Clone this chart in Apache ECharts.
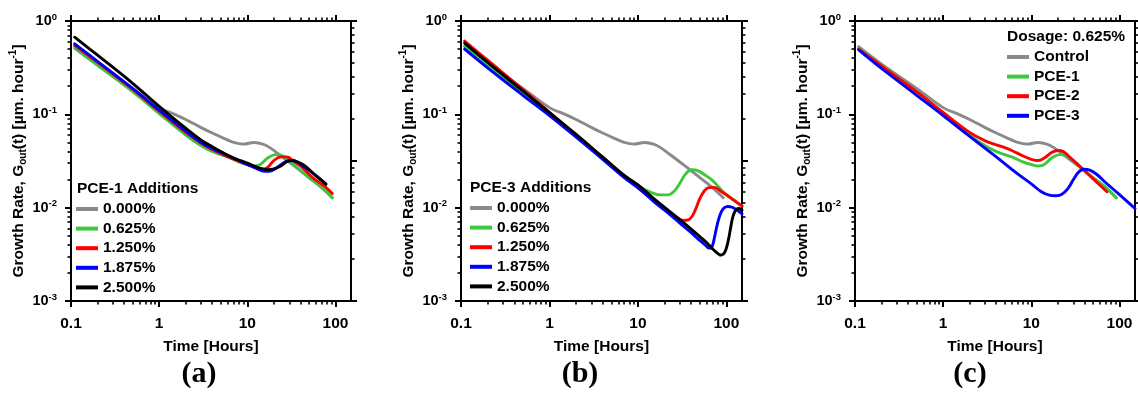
<!DOCTYPE html>
<html><head><meta charset="utf-8">
<script src="https://cdn.jsdelivr.net/npm/echarts@6/dist/echarts.min.js"></script>
<style>html,body{margin:0;padding:0;background:#fff}#c{width:1138px;height:394px}</style>
</head><body><div id="c"></div><script>
// ---------- data (time in hours, growth rate) ----------
const ctrlT = [0.11,0.2,0.5,1,1.5,2,3,4,5.5,7,9,12,15,18,24,34,50,70,92];
const ctrlG = [0.53,0.345,0.19,0.118,0.1,0.088,0.072,0.063,0.055,0.05,0.048,0.05,0.048,0.044,0.036,0.028,0.021,0.0163,0.0128];

// panel (a) PCE-1 additions
const a625T  = [0.11,0.2,0.5,1,2,3,4,5,6,8,10,12,14,17,21,25,30,40,50,70,92];
const a625G  = [0.51,0.335,0.175,0.102,0.06,0.046,0.04,0.037,0.035,0.031,0.029,0.028,0.029,0.034,0.037,0.036,0.032,0.025,0.021,0.0165,0.0128];
const a1250T = [0.11,0.2,0.5,1,2,3,4,5,7,10,13,15,17,20,24,28,33,40,55,75,92];
const a1250G = [0.55,0.36,0.185,0.108,0.064,0.049,0.042,0.038,0.033,0.029,0.027,0.026,0.027,0.032,0.035,0.035,0.032,0.028,0.021,0.017,0.0142];
const a1875T = [0.11,0.2,0.5,1,2,3,4,5,7,10,13,16,19,23,27,31,36,45,60,78];
const a1875G = [0.57,0.37,0.19,0.111,0.066,0.05,0.043,0.039,0.034,0.029,0.026,0.0245,0.025,0.028,0.031,0.032,0.031,0.027,0.022,0.0178];
const a2500T = [0.11,0.2,0.5,1,2,3,4,5,7,10,13,17,20,24,28,32,37,45,60,78];
const a2500G = [0.67,0.43,0.215,0.122,0.071,0.053,0.045,0.04,0.034,0.03,0.027,0.0255,0.026,0.028,0.031,0.032,0.031,0.028,0.022,0.018];

// panel (b) PCE-3 additions
const b625T  = [0.11,0.2,0.5,1,2,4,7,10,14,18,22,26,30,35,41,48,58,70,96,150];
const b625G  = [0.54,0.34,0.17,0.1,0.058,0.034,0.022,0.0172,0.0146,0.0137,0.0137,0.0152,0.0185,0.0233,0.0255,0.0248,0.0222,0.0195,0.0142,0.0104];
const b1250T = [0.11,0.2,0.5,1,2,4,7,10,15,20,25,29,33,37,41,45,50,56,63,72,90,115,150];
const b1250G = [0.61,0.38,0.185,0.105,0.06,0.0345,0.0215,0.0168,0.0122,0.0097,0.0083,0.0076,0.0073,0.0074,0.0081,0.0097,0.0125,0.015,0.0164,0.0165,0.0146,0.0125,0.0104];
const b1875T = [0.11,0.2,0.5,1,2,4,7,10,15,20,30,40,48,54,59,63,67,70,73,77,82,88,95,104,116,130,150];
const b1875G = [0.5,0.315,0.16,0.097,0.057,0.033,0.021,0.0163,0.0117,0.0094,0.0068,0.0054,0.0046,0.0042,0.0039,0.0037,0.0037,0.0040,0.0047,0.006,0.0076,0.0091,0.01,0.0103,0.0101,0.0095,0.0086];
const b2500T = [0.11,0.2,0.5,1,2,4,7,10,15,20,30,40,50,60,68,75,81,87,93,98,103,108,113,118,124,131,139,150];
const b2500G = [0.58,0.36,0.178,0.104,0.061,0.0348,0.0222,0.0175,0.0126,0.0101,0.0074,0.0059,0.0049,0.0042,0.0037,0.0034,0.0032,0.0031,0.0032,0.0035,0.0041,0.0051,0.0065,0.0079,0.009,0.0097,0.0098,0.0094];

// panel (c) dosage 0.625 %
const cPce1T = a625T, cPce1G = a625G;
const cPce2T = [0.11,0.2,0.5,1,2,3,4,5,6,8,10,12,14,17,20,23,27,35,50,72];
const cPce2G = [0.5,0.33,0.175,0.105,0.064,0.052,0.047,0.044,0.041,0.036,0.033,0.032,0.034,0.039,0.041,0.04,0.035,0.028,0.0205,0.0148];
const cPce3T = [0.11,0.2,0.5,1,2,4,7,10,13,16,19,22,26,30,35,40,46,55,70,100,150];
const cPce3G = [0.49,0.31,0.16,0.097,0.058,0.035,0.023,0.018,0.0148,0.0136,0.0134,0.0138,0.016,0.02,0.0245,0.0258,0.0252,0.0228,0.0185,0.0138,0.0098];

const addNames = ['0.000%','0.625%','1.250%','1.875%','2.500%'];
const dosNames = ['Control','PCE-1','PCE-2','PCE-3'];
const xTickLabels = [0.1,1,10,100];
const yTickLabels = [0.001,0.01,0.1,1];

// ---------- styling ----------
const FONT = '"Liberation Sans", Arial, sans-serif';
const FS = 15.5;
const C = {gray:'#8a8a8a', green:'#3cc83c', red:'#ff0000', blue:'#0000ff', black:'#000000'};
const X_MIN = 0.1, X_MAX = 150;
function minors(decs){const o=[];decs.forEach(d=>{for(let m=2;m<=9;m++)o.push(+(m*d).toPrecision(3));});return o;}
const xMinor = minors([0.1,1,10]);
const yMinor = minors([0.001,0.01,0.1]);
const rMajor = [0.01,0.1,1];
const rMinor = minors([0.01,0.1]);

const grids = [
  {left:71, top:21, width:280, height:280},
  {left:461, top:21, width:281, height:280},
  {left:855, top:21, width:280, height:280}
];

function fmtX(v){const e=Math.round(Math.log10(v));return e<0?Math.pow(10,e).toFixed(-e):String(Math.round(Math.pow(10,e)));}
function fmtY(v){const e=Math.round(Math.log10(v));return '{b|10}{s|'+e+'}';}

const lineAx = {show:true, lineStyle:{color:'#000', width:2}};
const xAxis = [], yAxis = [];
grids.forEach((g,i)=>{
  const bx = {type:'log', logBase:10, min:X_MIN, max:X_MAX, gridIndex:i, splitLine:{show:false}, axisLine:lineAx};
  xAxis.push(Object.assign({}, bx, {position:'bottom',
    axisTick:{show:true, length:6, customValues:xTickLabels, lineStyle:{color:'#000', width:2}},
    axisLabel:{show:true, customValues:xTickLabels, formatter:fmtX, margin:15, color:'#000', fontSize:FS, fontWeight:'bold', fontFamily:FONT},
    name:'Time [Hours]', nameLocation:'middle', nameGap:38,
    nameTextStyle:{color:'#000', fontSize:FS, fontWeight:'bold', fontFamily:FONT}}));
  xAxis.push(Object.assign({}, bx, {position:'bottom',
    axisTick:{show:true, length:3.5, customValues:xMinor, lineStyle:{color:'#000', width:1.6}}, axisLabel:{show:false}}));
  xAxis.push(Object.assign({}, bx, {position:'top',
    axisTick:{show:true, length:6, customValues:xTickLabels, lineStyle:{color:'#000', width:2}}, axisLabel:{show:false}}));
  xAxis.push(Object.assign({}, bx, {position:'top',
    axisTick:{show:true, length:3.5, customValues:xMinor, lineStyle:{color:'#000', width:1.6}}, axisLabel:{show:false}}));

  const by = {type:'log', logBase:10, min:0.001, max:1, gridIndex:i, splitLine:{show:false}, axisLine:lineAx};
  yAxis.push(Object.assign({}, by, {position:'left',
    axisTick:{show:true, length:6, customValues:yTickLabels, lineStyle:{color:'#000', width:2}},
    axisLabel:{show:true, customValues:yTickLabels, formatter:fmtY, margin:14,
      rich:{b:{fontSize:14.5, fontWeight:'bold', fontFamily:FONT, color:'#000', lineHeight:18},
            s:{fontSize:9.5, fontWeight:'bold', fontFamily:FONT, color:'#000', verticalAlign:'top', lineHeight:18}}},
    name:'{n|Growth Rate, G}{sub|out}{n|(t) [µm. hour}{sup|-1}{n|]}', nameLocation:'middle', nameGap:42,
    nameTextStyle:{rich:{
      n:{fontSize:FS, fontWeight:'bold', fontFamily:FONT, color:'#000', lineHeight:20},
      sub:{fontSize:10, fontWeight:'bold', fontFamily:FONT, color:'#000', verticalAlign:'bottom', lineHeight:20},
      sup:{fontSize:10, fontWeight:'bold', fontFamily:FONT, color:'#000', verticalAlign:'top', lineHeight:20}}}}));
  yAxis.push(Object.assign({}, by, {position:'left',
    axisTick:{show:true, length:3.5, customValues:yMinor, lineStyle:{color:'#000', width:1.6}}, axisLabel:{show:false}}));
  const br = {type:'log', logBase:10, min:0.01, max:1, gridIndex:i, splitLine:{show:false}, axisLine:lineAx};
  yAxis.push(Object.assign({}, br, {position:'right',
    axisTick:{show:true, length:6, customValues:rMajor, lineStyle:{color:'#000', width:2}}, axisLabel:{show:false}}));
  yAxis.push(Object.assign({}, br, {position:'right',
    axisTick:{show:true, length:3.5, customValues:rMinor, lineStyle:{color:'#000', width:1.6}}, axisLabel:{show:false}}));
});

function pairs(t,g){return t.map((v,k)=>[v,g[k]]);}
function mk(name, panel, t, g, color){
  return {type:'line', name:name, xAxisIndex:panel*4, yAxisIndex:panel*4, data:pairs(t,g),
    showSymbol:false, symbol:'none', smooth:0.4, color:color,
    lineStyle:{color:color, width:2.9, cap:'round', join:'round'}, z:3};
}
const series = [
  mk(addNames[0],0,ctrlT,ctrlG,C.gray),
  mk(addNames[1],0,a625T,a625G,C.green),
  mk(addNames[2],0,a1250T,a1250G,C.red),
  mk(addNames[3],0,a1875T,a1875G,C.blue),
  mk(addNames[4],0,a2500T,a2500G,C.black),
  mk(addNames[0],1,ctrlT,ctrlG,C.gray),
  mk(addNames[1],1,b625T,b625G,C.green),
  mk(addNames[2],1,b1250T,b1250G,C.red),
  mk(addNames[3],1,b1875T,b1875G,C.blue),
  mk(addNames[4],1,b2500T,b2500G,C.black),
  mk(dosNames[0],2,ctrlT,ctrlG,C.gray),
  mk(dosNames[1],2,cPce1T,cPce1G,C.green),
  mk(dosNames[2],2,cPce2T,cPce2G,C.red),
  mk(dosNames[3],2,cPce3T,cPce3G,C.blue)
];

const legText = {color:'#000', fontSize:FS, fontWeight:'bold', fontFamily:FONT, lineHeight:16};
function leg(left, top, names){
  return {orient:'vertical', left:left, top:top, data:names, icon:'rect', itemWidth:22, itemHeight:4,
    itemGap:3.6, padding:0, selectedMode:false, textStyle:legText};
}
function txt(x, y, s, font, align){
  return {type:'text', x:x, y:y, style:{text:s, font:font, fill:'#000', textAlign:align||'left', textVerticalAlign:'middle'}};
}
const titleFont = 'bold 15.5px "Liberation Sans", Arial, sans-serif';
const letterFont = 'bold 30px "Liberation Serif", "Times New Roman", serif';

const chart = echarts.init(document.getElementById('c'), null, {renderer:'canvas'});
chart.setOption({
  animation:false,
  backgroundColor:'#fff',
  grid:grids,
  xAxis:xAxis,
  yAxis:yAxis,
  legend:[leg(76,201,addNames), leg(470,200,addNames), leg(1007,49,dosNames)],
  graphic:[
    txt(77,189,'PCE-1 Additions',titleFont),
    txt(470,188,'PCE-3 Additions',titleFont),
    txt(1007,37,'Dosage: 0.625%',titleFont),
    txt(199,374,'(a)',letterFont,'center'),
    txt(580,374,'(b)',letterFont,'center'),
    txt(970,374,'(c)',letterFont,'center')
  ],
  series:series
});
</script></body></html>
